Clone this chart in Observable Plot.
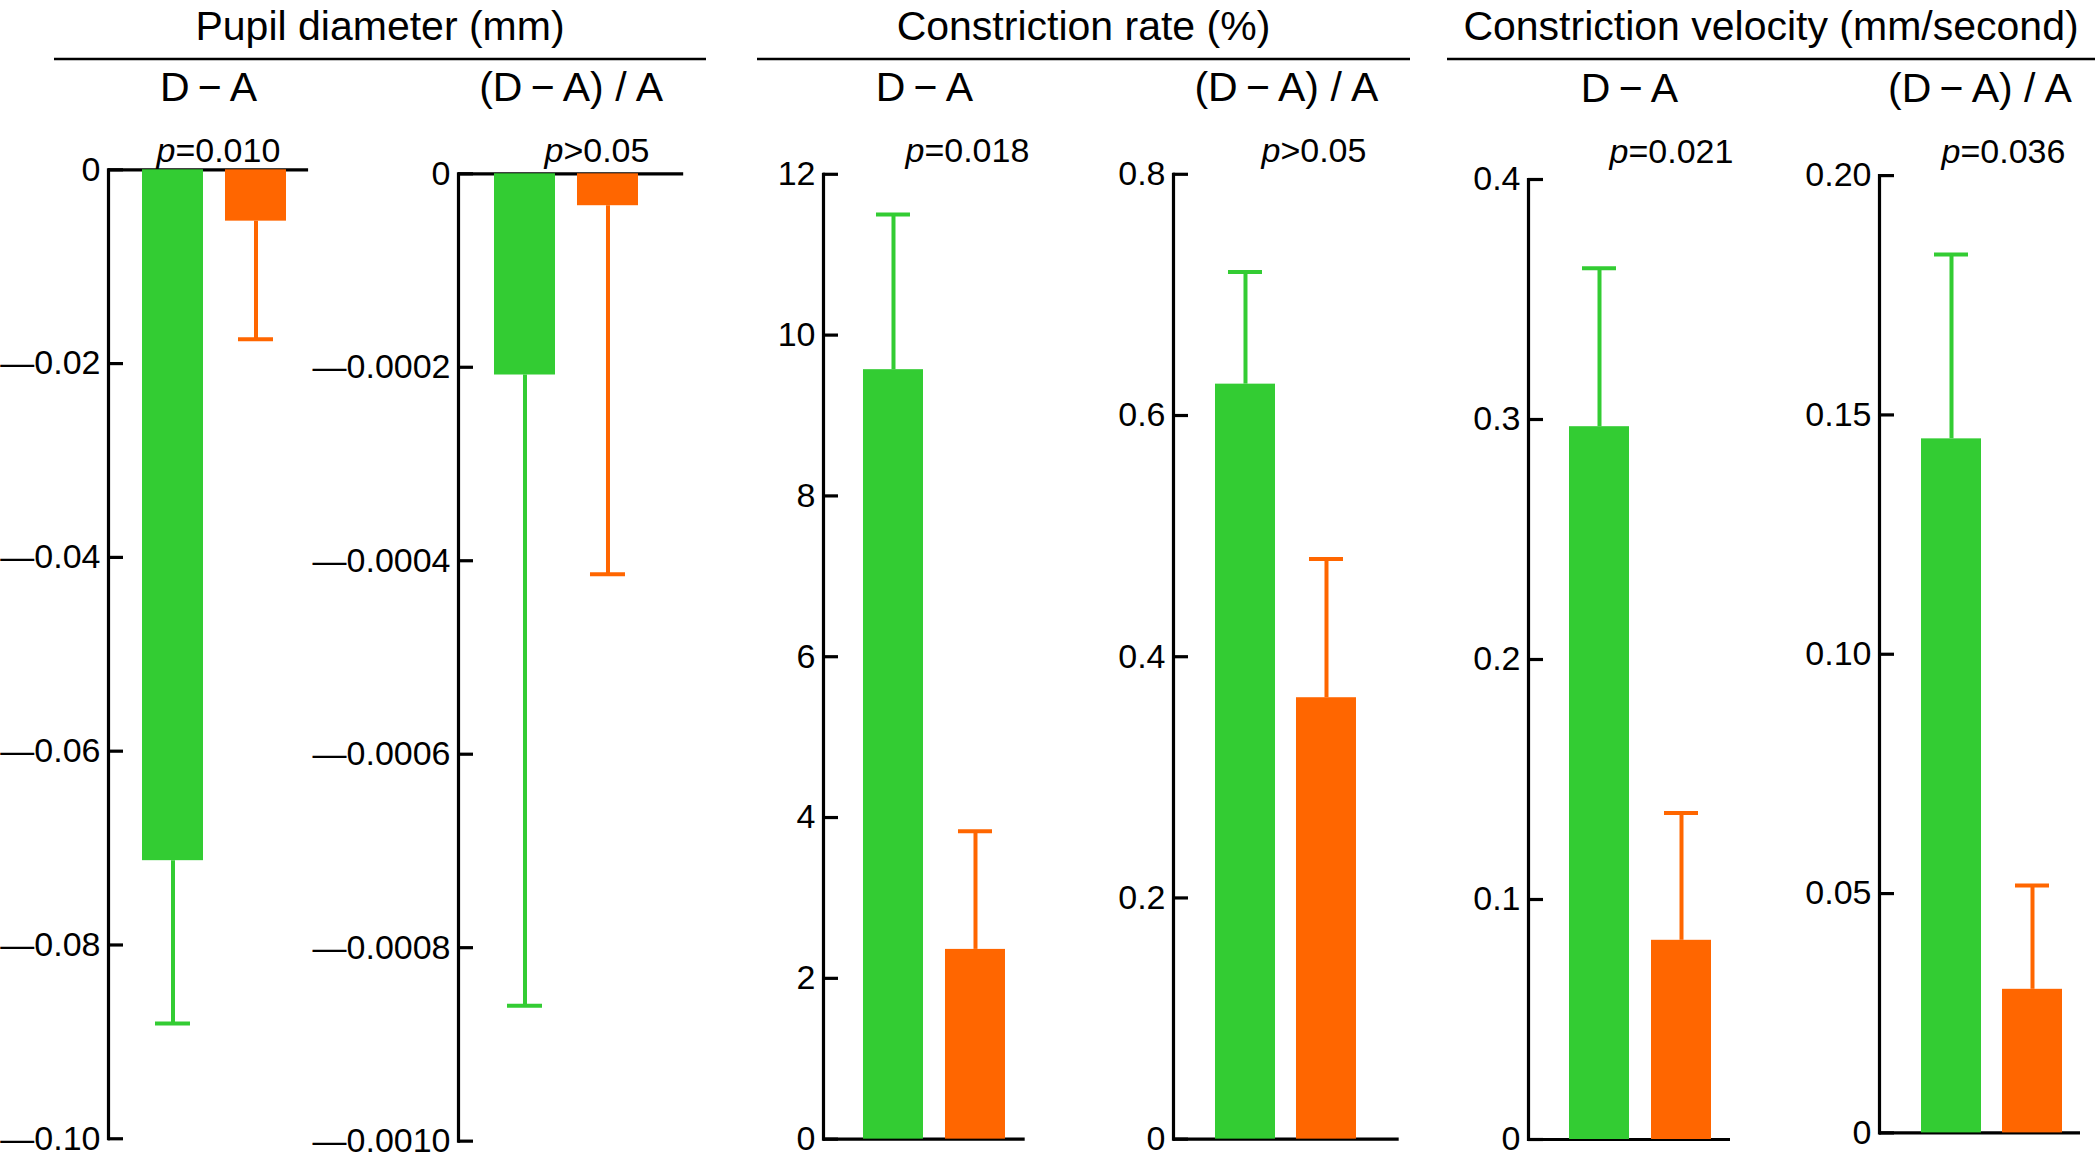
<!DOCTYPE html>
<html>
<head>
<meta charset="utf-8">
<script src="https://cdn.jsdelivr.net/npm/d3@7"></script>
<script src="https://cdn.jsdelivr.net/npm/@observablehq/plot@0.6"></script>
<style>
html, body { margin: 0; padding: 0; background: #fff; }
#chart { position: relative; width: 2097px; height: 1159px; overflow: hidden; background: #fff;
  font-family: 'Liberation Sans', Arial, 'Noto Sans CJK JP', sans-serif; color: #000; }
#chart svg { position: absolute; top: 0; }
</style>
</head>
<body>
<div id="chart"></div>
<script>
// ---------- data ----------
const groups = ["Group 1", "Group 2"];
const sectionTitles = ["Pupil diameter (mm)", "Constriction rate (%)", "Constriction velocity (mm/second)"];
const panelSubtitles = ["D\u2009\u2212\u2009A", "(D\u2009\u2212\u2009A) / A", "D\u2009\u2212\u2009A", "(D\u2009\u2212\u2009A) / A", "D\u2009\u2212\u2009A", "(D\u2009\u2212\u2009A) / A"];
const pLabels = ["p=0.010", "p>0.05", "p=0.018", "p>0.05", "p=0.021", "p=0.036"];

const pupilDiffMean = [-0.0713, -0.0053];
const pupilDiffErr = [0.0168, 0.0122];
const pupilRatioMean = [-0.000208, -0.000033];
const pupilRatioErr = [0.000652, 0.000381];
const rateDiffMean = [9.57, 2.36];
const rateDiffErr = [1.93, 1.47];
const rateRatioMean = [0.626, 0.366];
const rateRatioErr = [0.093, 0.115];
const velDiffMean = [0.297, 0.083];
const velDiffErr = [0.066, 0.053];
const velRatioMean = [0.145, 0.030];
const velRatioErr = [0.0385, 0.0217];

const pupilDiffTicks = [0, -0.02, -0.04, -0.06, -0.08, -0.10];
const pupilDiffTickLabels = ["0", "\u20140.02", "\u20140.04", "\u20140.06", "\u20140.08", "\u20140.10"];
const pupilRatioTicks = [0, -0.0002, -0.0004, -0.0006, -0.0008, -0.0010];
const pupilRatioTickLabels = ["0", "\u20140.0002", "\u20140.0004", "\u20140.0006", "\u20140.0008", "\u20140.0010"];
const rateDiffTicks = [0, 2, 4, 6, 8, 10, 12];
const rateDiffTickLabels = ["0", "2", "4", "6", "8", "10", "12"];
const rateRatioTicks = [0, 0.2, 0.4, 0.6, 0.8];
const rateRatioTickLabels = ["0", "0.2", "0.4", "0.6", "0.8"];
const velDiffTicks = [0, 0.1, 0.2, 0.3, 0.4];
const velDiffTickLabels = ["0", "0.1", "0.2", "0.3", "0.4"];
const velRatioTicks = [0, 0.05, 0.10, 0.15, 0.20];
const velRatioTickLabels = ["0", "0.05", "0.10", "0.15", "0.20"];

// ---------- layout (pixels) ----------
const sectionLayout = [
  {x1: 54, x2: 706}, {x1: 757, x2: 1410}, {x1: 1447, x2: 2095}
];
const panelLayout = [
  {axis: 108.4, end: 308.5, top: 169.3, bottom: 1138.3, barL: 33.9, barR: 178.1, pdx: 48},
  {axis: 457.8, end: 683, top: 173.3, bottom: 1140.7, barL: 34.9, barR: 180.4, pdx: 86},
  {axis: 823.3, end: 1025, top: 173.8, bottom: 1138.7, barL: 40, barR: 183, pdx: 82},
  {axis: 1173.3, end: 1399, top: 173.8, bottom: 1138.7, barL: 41.4, barR: 183.4, pdx: 88},
  {axis: 1528.3, end: 1730.3, top: 179, bottom: 1139, barL: 40, barR: 183.7, pdx: 81},
  {axis: 1879, end: 2080, top: 175.1, bottom: 1132.4, barL: 41, barR: 183, pdx: 62}
];
const H = 1159;
const FONT = "'Liberation Sans', Arial, 'Noto Sans CJK JP', sans-serif";
const colors = ["#33cc33", "#ff6600"];

const panels = [
  {means: pupilDiffMean, errs: pupilDiffErr, ticks: pupilDiffTicks, labels: pupilDiffTickLabels},
  {means: pupilRatioMean, errs: pupilRatioErr, ticks: pupilRatioTicks, labels: pupilRatioTickLabels},
  {means: rateDiffMean, errs: rateDiffErr, ticks: rateDiffTicks, labels: rateDiffTickLabels},
  {means: rateRatioMean, errs: rateRatioErr, ticks: rateRatioTicks, labels: rateRatioTickLabels},
  {means: velDiffMean, errs: velDiffErr, ticks: velDiffTicks, labels: velDiffTickLabels},
  {means: velRatioMean, errs: velRatioErr, ticks: velRatioTicks, labels: velRatioTickLabels}
];

const chart = document.getElementById("chart");

// header: section titles + underlines
const hdr = d3.create("svg").attr("width", 2097).attr("height", 80)
  .style("left", "0px").style("top", "0px").style("overflow", "visible");
sectionTitles.forEach((t, i) => {
  const s = sectionLayout[i];
  hdr.append("text").attr("x", (s.x1 + s.x2) / 2).attr("y", 40)
    .attr("text-anchor", "middle").attr("font-size", 41).attr("font-family", FONT).attr("fill", "#000").text(t);
  hdr.append("line").attr("x1", s.x1).attr("x2", s.x2).attr("y1", 59).attr("y2", 59)
    .attr("stroke", "#000").attr("stroke-width", 2.5);
});
chart.appendChild(hdr.node());

panels.forEach((p, i) => {
  const L = panelLayout[i];
  const ML = 150, MR = 30;
  const frameW = L.end - L.axis;
  const width = ML + frameW + MR;
  const data = groups.map((g, j) => ({
    group: g, mean: p.means[j], end: p.means[j] + Math.sign(p.means[j]) * p.errs[j]
  }));
  const labelOf = d => {
    let k = 0, best = Infinity;
    p.ticks.forEach((t, j) => { const e = Math.abs(t - d); if (e < best) { best = e; k = j; } });
    return p.labels[k];
  };
  const yDomain = d3.extent(p.ticks);
  const plot = Plot.plot({
    width, height: H,
    marginLeft: ML, marginRight: MR, marginTop: L.top, marginBottom: H - L.bottom,
    x: {type: "band", domain: groups, range: [ML + L.barL, ML + L.barR], paddingInner: 22 / 83, paddingOuter: 0, axis: null},
    y: {domain: yDomain, axis: null},
    color: {domain: groups, range: colors},
    style: {fontFamily: FONT, fontSize: "34px", background: "transparent", color: "#000", overflow: "visible"},
    marks: [
      Plot.axisY(p.ticks, {anchor: "left", tickSize: 0, tickPadding: 8, tickFormat: labelOf, fontSize: 34}),
      Plot.ruleY(p.ticks, {insetRight: frameW - 15, strokeWidth: 3.2}),
      Plot.frame({anchor: "left", strokeWidth: 3.2}),
      Plot.ruleY([0], {strokeWidth: 3.2}),
      Plot.barY(data, {x: "group", y1: 0, y2: "mean", fill: "group"}),
      Plot.ruleX(data, {x: "group", y1: "mean", y2: "end", stroke: "group", strokeWidth: 4}),
      Plot.tickY(data, {x: "group", y: "end", stroke: "group", strokeWidth: 4, insetLeft: 13, insetRight: 13}),
      Plot.text([pLabels[i]], {frameAnchor: "top-left", dx: L.pdx, dy: 162 - L.top, textAnchor: "start", lineAnchor: "bottom", fontSize: 34}),
      Plot.text([panelSubtitles[i]], {frameAnchor: "top", dy: 101 - L.top, lineAnchor: "bottom", fontSize: 41})
    ]
  });
  plot.style.left = (L.axis - ML) + "px";
  plot.style.top = "0px";
  // italic "p" in the p-value labels
  d3.select(plot).selectAll("text").filter(function () {
    return this.textContent === pLabels[i];
  }).each(function () {
    const t = this.textContent;
    const sel = d3.select(this);
    sel.selectAll("*").remove();
    sel.text(null);
    sel.append("tspan").attr("font-style", "italic").style("font-style", "italic").text(t.slice(0, 1));
    sel.append("tspan").text(t.slice(1));
  });
  chart.appendChild(plot);
});
</script>
</body>
</html>
